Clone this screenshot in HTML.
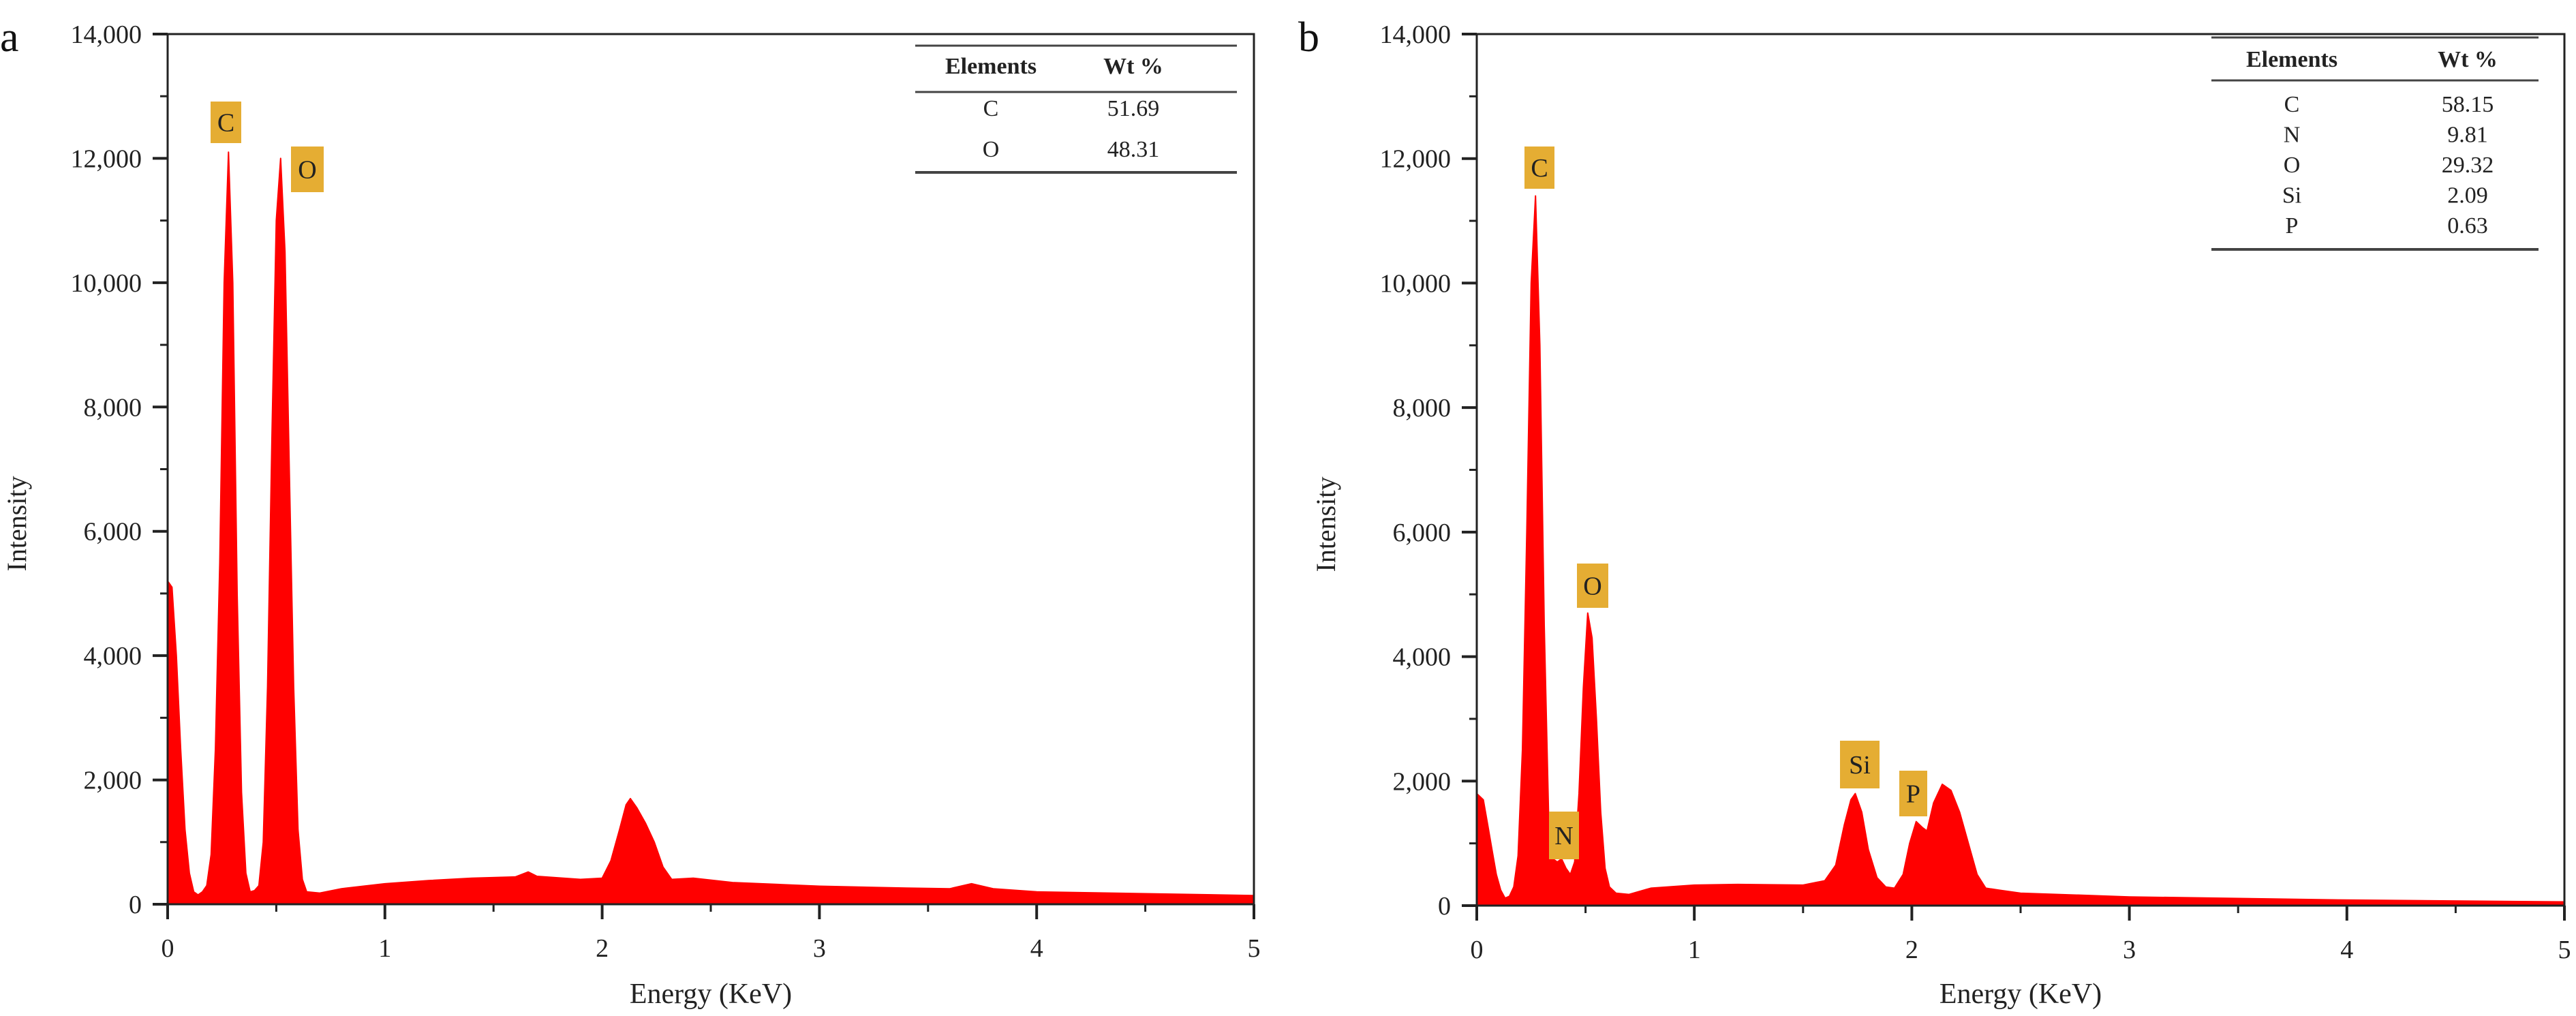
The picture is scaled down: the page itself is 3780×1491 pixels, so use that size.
<!DOCTYPE html>
<html><head><meta charset="utf-8"><style>
html,body{margin:0;padding:0;background:#fff;}
svg{display:block;font-family:"Liberation Serif",serif;}
</style></head><body>
<svg id="s" width="3780" height="1491" viewBox="0 0 3780 1491" xmlns="http://www.w3.org/2000/svg"></svg>
<script>
const energyA=[0,0.02,0.04,0.06,0.08,0.1,0.12,0.14,0.16,0.18,0.2,0.22,0.24,0.26,0.28,0.3,0.32,0.34,0.36,0.38,0.4,0.42,0.44,0.46,0.48,0.5,0.52,0.54,0.56,0.58,0.6,0.62,0.64,0.7,0.8,1.0,1.2,1.4,1.6,1.66,1.7,1.9,2.0,2.04,2.08,2.11,2.13,2.16,2.2,2.24,2.28,2.32,2.42,2.6,3.0,3.4,3.6,3.7,3.8,4.0,4.5,5.0];
const countsA=[5200,5100,4000,2500,1200,500,200,150,200,300,800,2500,5500,10000,12100,10000,5000,1800,500,200,220,300,1000,3500,7500,11000,12000,10500,7000,3500,1200,400,200,180,250,330,380,420,440,520,450,400,420,700,1200,1600,1700,1550,1300,1000,600,400,420,350,290,260,250,330,250,200,170,140];
const energyB=[0,0.03,0.05,0.07,0.09,0.11,0.13,0.15,0.17,0.19,0.21,0.23,0.25,0.27,0.29,0.31,0.33,0.35,0.37,0.39,0.41,0.43,0.45,0.47,0.49,0.51,0.53,0.55,0.57,0.59,0.61,0.64,0.7,0.8,1.0,1.2,1.5,1.6,1.65,1.69,1.72,1.74,1.77,1.8,1.84,1.88,1.92,1.96,1.99,2.02,2.05,2.07,2.1,2.14,2.18,2.22,2.26,2.3,2.34,2.4,2.5,3,4,5];
const countsB=[1800,1700,1300,900,500,250,120,150,300,800,2500,6000,10000,11400,9000,4500,1500,750,700,750,600,500,700,1800,3500,4700,4300,3000,1500,600,300,200,180,280,330,340,330,400,650,1300,1700,1800,1500,900,450,300,280,500,1000,1350,1250,1200,1650,1950,1850,1500,1000,500,280,250,200,140,90,60];
const yTicks=[0,2000,4000,6000,8000,10000,12000,14000];
const yTickLabels=["0","2,000","4,000","6,000","8,000","10,000","12,000","14,000"];
const xTicks=[0,1,2,3,4,5];
const tableA=[["C","51.69"],["O","48.31"]];
const tableB=[["C","58.15"],["N","9.81"],["O","29.32"],["Si","2.09"],["P","0.63"]];
const peaksA=[["C",309,149,45,61],["O",427,215,48,67]];
const peaksB=[["C",2237,215,44,62],["O",2314,827,46,65],["N",2273,1191,44,70],["Si",2700,1087,58,70],["P",2787,1131,41,67]];

const S=document.getElementById('s');
const NS='http://www.w3.org/2000/svg';
function mk(t,a,txt){const e=document.createElementNS(NS,t);for(const k in a)e.setAttribute(k,a[k]);if(txt!==undefined)e.textContent=txt;S.appendChild(e);return e;}

function panel(id,L,R,T,B,energy,counts,peaks,table,tb,letter,letterX){
  const sx=v=>L+(v/5)*(R-L);
  const sy=v=>B-(v/14000)*(B-T);
  let d='M'+sx(energy[0])+','+sy(0);
  for(let i=0;i<energy.length;i++)d+=' L'+sx(energy[i]).toFixed(1)+','+sy(counts[i]).toFixed(1);
  d+=' L'+sx(energy[energy.length-1])+','+sy(0)+' Z';
  let e=mk('path',{d:d,fill:'#ff0000',stroke:'#ff0000','stroke-width':2,'stroke-linejoin':'round'});
  
  
  e=mk('rect',{x:L,y:T,width:R-L,height:B-T,fill:'none',stroke:'#222','stroke-width':3});
  
  
  yTicks.forEach((v,i)=>{
    mk('line',{x1:L-22,x2:L,y1:sy(v),y2:sy(v),stroke:'#222','stroke-width':4});
    if(i<yTicks.length-1)mk('line',{x1:L-11,x2:L,y1:sy(v+1000),y2:sy(v+1000),stroke:'#222','stroke-width':3});
    const t=mk('text',{x:L-38,y:sy(v)+13,'font-size':38,'text-anchor':'end',fill:'#222'},yTickLabels[i]);
    
    
  });
  xTicks.forEach((v,i)=>{
    mk('line',{x1:sx(v),x2:sx(v),y1:B,y2:B+22,stroke:'#222','stroke-width':4});
    if(i<xTicks.length-1)mk('line',{x1:sx(v+0.5),x2:sx(v+0.5),y1:B,y2:B+11,stroke:'#222','stroke-width':3});
    const t=mk('text',{x:sx(v),y:B+77,'font-size':38,'text-anchor':'middle',fill:'#222'},String(v));
    
    
  });
  let t=mk('text',{x:(L+R)/2,y:1472,'font-size':42,'text-anchor':'middle',fill:'#222'},'Energy (KeV)');
  
  
  const yx=L-208;
  t=mk('text',{x:yx,y:(T+B)/2+80,'font-size':40,'text-anchor':'middle',fill:'#222',transform:'rotate(-90 '+yx+' '+((T+B)/2+80)+')'},'Intensity');
  
  
  t=mk('text',{x:letterX,y:75,'font-size':62,fill:'#111'},letter);
  
  
  peaks.forEach(p=>{
    const r=mk('rect',{x:p[1],y:p[2],width:p[3],height:p[4],fill:'#e5ad33'});
    
    
    mk('text',{x:p[1]+p[3]/2,y:p[2]+p[4]/2+13,'font-size':38,'text-anchor':'middle',fill:'#222'},p[0]);
  });
  mk('line',{x1:tb.x1,x2:tb.x2,y1:tb.top,y2:tb.top,stroke:'#444','stroke-width':3});
  mk('line',{x1:tb.x1,x2:tb.x2,y1:tb.mid,y2:tb.mid,stroke:'#444','stroke-width':3});
  mk('line',{x1:tb.x1,x2:tb.x2,y1:tb.bot,y2:tb.bot,stroke:'#444','stroke-width':4});
  t=mk('text',{x:tb.c1,y:tb.head,'font-size':34,'font-weight':'bold','text-anchor':'middle',fill:'#222'},'Elements');
  
  
  t=mk('text',{x:tb.c2,y:tb.head,'font-size':34,'font-weight':'bold','text-anchor':'middle',fill:'#222'},'Wt %');
  
  
  table.forEach((row,i)=>{
    const y=tb.row0+i*tb.step;
    let a=mk('text',{x:tb.c1,y:y,'font-size':34,'text-anchor':'middle',fill:'#222'},row[0]);
    
    
    a=mk('text',{x:tb.c2,y:y,'font-size':34,'text-anchor':'middle',fill:'#222'},row[1]);
    
    
  });
}
panel('panel-a',246,1840,50,1327,energyA,countsA,peaksA,tableA,
 {x1:1343,x2:1815,top:67,mid:135,bot:253,c1:1454,c2:1663,head:108,row0:170,step:60},'a',0);
panel('panel-b',2167,3763,50,1329,energyB,countsB,peaksB,tableB,
 {x1:3245,x2:3725,top:55,mid:118,bot:366,c1:3363,c2:3621,head:98,row0:164,step:44.5},'b',1905);
</script>
</body></html>
